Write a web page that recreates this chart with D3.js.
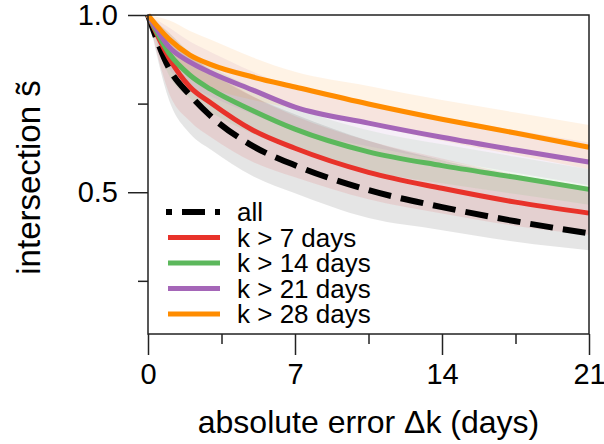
<!DOCTYPE html>
<html>
<head>
<meta charset="utf-8">
<script src="https://cdn.jsdelivr.net/npm/d3@7"></script>
<style>
  body { margin: 0; background: #fff; }
  svg { display: block; font-family: "Liberation Sans", Arial, sans-serif; }
</style>
</head>
<body>
<div id="chart"></div>
<script>
const days = [0, 1, 2, 3, 5, 7, 10.5, 14, 17.5, 21];

const allMean = [1.0, 0.85, 0.774, 0.714, 0.63, 0.576, 0.506, 0.458, 0.418, 0.384];
const allLow = [1.0, 0.76, 0.665, 0.62, 0.545, 0.497, 0.427, 0.393, 0.36, 0.336];
const allHigh = [1.0, 0.94, 0.89, 0.84, 0.77, 0.72, 0.645, 0.59, 0.545, 0.505];

const k7Mean = [1.0, 0.879, 0.797, 0.752, 0.675, 0.624, 0.556, 0.511, 0.472, 0.441];
const k7Low = [1.0, 0.78, 0.7, 0.655, 0.585, 0.542, 0.48, 0.44, 0.405, 0.38];
const k7High = [1.0, 0.95, 0.89, 0.845, 0.77, 0.715, 0.645, 0.595, 0.55, 0.515];

const k14Mean = [1.0, 0.892, 0.83, 0.79, 0.73, 0.678, 0.614, 0.575, 0.542, 0.508];
const k14Low = [1.0, 0.83, 0.765, 0.725, 0.665, 0.62, 0.56, 0.525, 0.495, 0.465];
const k14High = [1.0, 0.95, 0.895, 0.855, 0.795, 0.74, 0.675, 0.635, 0.6, 0.565];

const k21Mean = [1.0, 0.91, 0.867, 0.837, 0.788, 0.74, 0.695, 0.655, 0.619, 0.585];
const k21Low = [1.0, 0.85, 0.8, 0.77, 0.72, 0.675, 0.63, 0.59, 0.555, 0.52];
const k21High = [1.0, 0.965, 0.925, 0.895, 0.84, 0.795, 0.75, 0.71, 0.675, 0.64];

const k28Mean = [1.0, 0.932, 0.887, 0.86, 0.825, 0.797, 0.749, 0.706, 0.667, 0.627];
const k28Low = [1.0, 0.875, 0.825, 0.795, 0.76, 0.735, 0.69, 0.645, 0.605, 0.565];
const k28High = [1.0, 0.985, 0.955, 0.93, 0.88, 0.84, 0.8, 0.76, 0.725, 0.69];

const seriesNames = ["all", "k > 7 days", "k > 14 days", "k > 21 days", "k > 28 days"];
const seriesColors = ["#000000", "#e8322a", "#5cb85c", "#a566b8", "#ff8c00"];

const xTicks = [0, 7, 14, 21];
const xMinorTicks = [3.5, 10.5, 17.5];
const yTicks = [0.5, 1.0];
const yMinorTicks = [0.25, 0.75];

const series = [
  { mean: allMean, low: allLow, high: allHigh, band: "#000000", bandOpacity: 0.1 },
  { mean: k7Mean, low: k7Low, high: k7High, band: seriesColors[1], bandOpacity: 0.11 },
  { mean: k14Mean, low: k14Low, high: k14High, band: seriesColors[2], bandOpacity: 0.1 },
  { mean: k21Mean, low: k21Low, high: k21High, band: seriesColors[3], bandOpacity: 0.1 },
  { mean: k28Mean, low: k28Low, high: k28High, band: seriesColors[4], bandOpacity: 0.1 },
].map((s, i) => ({
  ...s,
  name: seriesNames[i],
  color: seriesColors[i],
  points: days.map((d, j) => ({ day: d, mean: s.mean[j], low: s.low[j], high: s.high[j] })),
}));

// set the dimensions and margins of the graph
const margin = { top: 15, right: 15, bottom: 110, left: 148 },
  width = 604 - margin.left - margin.right,
  height = 444 - margin.top - margin.bottom;

const svg = d3
  .select("#chart")
  .append("svg")
  .attr("width", 604)
  .attr("height", 444)
  .append("g")
  .attr("transform", `translate(${margin.left},${margin.top})`);

const x = d3.scaleLinear().domain([0, 21]).range([0, width]);
const y = d3.scaleLinear().domain([0.1, 1.0]).range([height, 0]);

// bands first, then lines on top
const area = d3
  .area()
  .x((d) => x(d.day))
  .y0((d) => y(d.low))
  .y1((d) => y(d.high))
  .curve(d3.curveMonotoneX);

const line = d3
  .line()
  .x((d) => x(d.day))
  .y((d) => y(d.mean))
  .curve(d3.curveMonotoneX);

series.forEach((s) => {
  svg
    .append("path")
    .attr("d", area(s.points))
    .attr("fill", s.band)
    .attr("fill-opacity", s.bandOpacity)
    .attr("stroke", "none");
});

series.forEach((s, i) => {
  svg
    .append("path")
    .attr("d", line(s.points))
    .attr("fill", "none")
    .attr("stroke", s.color)
    .attr("stroke-width", i === 0 ? 6 : 5)
    .attr("stroke-dasharray", i === 0 ? "23,10" : null);
});

// frame
svg
  .append("rect")
  .attr("width", width)
  .attr("height", height)
  .attr("fill", "none")
  .attr("stroke", "#222")
  .attr("stroke-width", 1.5);

// x axis
const xAxis = svg.append("g").attr("transform", `translate(0,${height})`);
xAxis
  .call(d3.axisBottom(x).tickValues(xTicks).tickSize(21).tickPadding(8).tickFormat(d3.format("d")))
  .call((g) => g.select(".domain").remove());
xAxis.selectAll("line").attr("stroke", "#222").attr("stroke-width", 1.5);
xAxis
  .selectAll("text")
  .attr("font-size", 29)
  .attr("font-family", "Liberation Sans, Arial, sans-serif")
  .attr("fill", "#000");
xAxis
  .append("g")
  .call(d3.axisBottom(x).tickValues(xMinorTicks).tickSize(10).tickFormat(""))
  .call((g) => g.select(".domain").remove())
  .selectAll("line")
  .attr("stroke", "#222")
  .attr("stroke-width", 1.5);

// y axis
const yAxis = svg.append("g");
yAxis
  .call(d3.axisLeft(y).tickValues(yTicks).tickSize(20).tickPadding(10).tickFormat(d3.format(".1f")))
  .call((g) => g.select(".domain").remove());
yAxis.selectAll("line").attr("stroke", "#222").attr("stroke-width", 1.5);
yAxis
  .selectAll("text")
  .attr("font-size", 29)
  .attr("font-family", "Liberation Sans, Arial, sans-serif")
  .attr("fill", "#000");
yAxis
  .append("g")
  .call(d3.axisLeft(y).tickValues(yMinorTicks).tickSize(10).tickFormat(""))
  .call((g) => g.select(".domain").remove())
  .selectAll("line")
  .attr("stroke", "#222")
  .attr("stroke-width", 1.5);

// axis titles
svg
  .append("text")
  .attr("x", width / 2)
  .attr("y", height + 99)
  .attr("text-anchor", "middle")
  .attr("font-size", 32)
  .text("absolute error Δk (days)");

svg
  .append("text")
  .attr("transform", `translate(${40 - margin.left},${height / 2 + 3}) rotate(-90)`)
  .attr("text-anchor", "middle")
  .attr("font-size", 33)
  .text("intersection s\u0303");

// legend
const legend = svg.append("g").attr("transform", `translate(${168 - margin.left},${212 - margin.top})`);
series.forEach((s, i) => {
  const row = legend.append("g").attr("transform", `translate(0,${i * 25.5})`);
  row
    .append("line")
    .attr("x1", i === 0 ? -2 : 0)
    .attr("x2", 52)
    .attr("stroke", s.color)
    .attr("stroke-width", i === 0 ? 6 : 5)
    .attr("stroke-dasharray", i === 0 ? "23,10" : null)
    .attr("stroke-dashoffset", i === 0 ? 17 : null);
  row
    .append("text")
    .attr("x", 69)
    .attr("y", 9)
    .attr("font-size", 26)
    .text(s.name);
});
</script>
</body>
</html>
